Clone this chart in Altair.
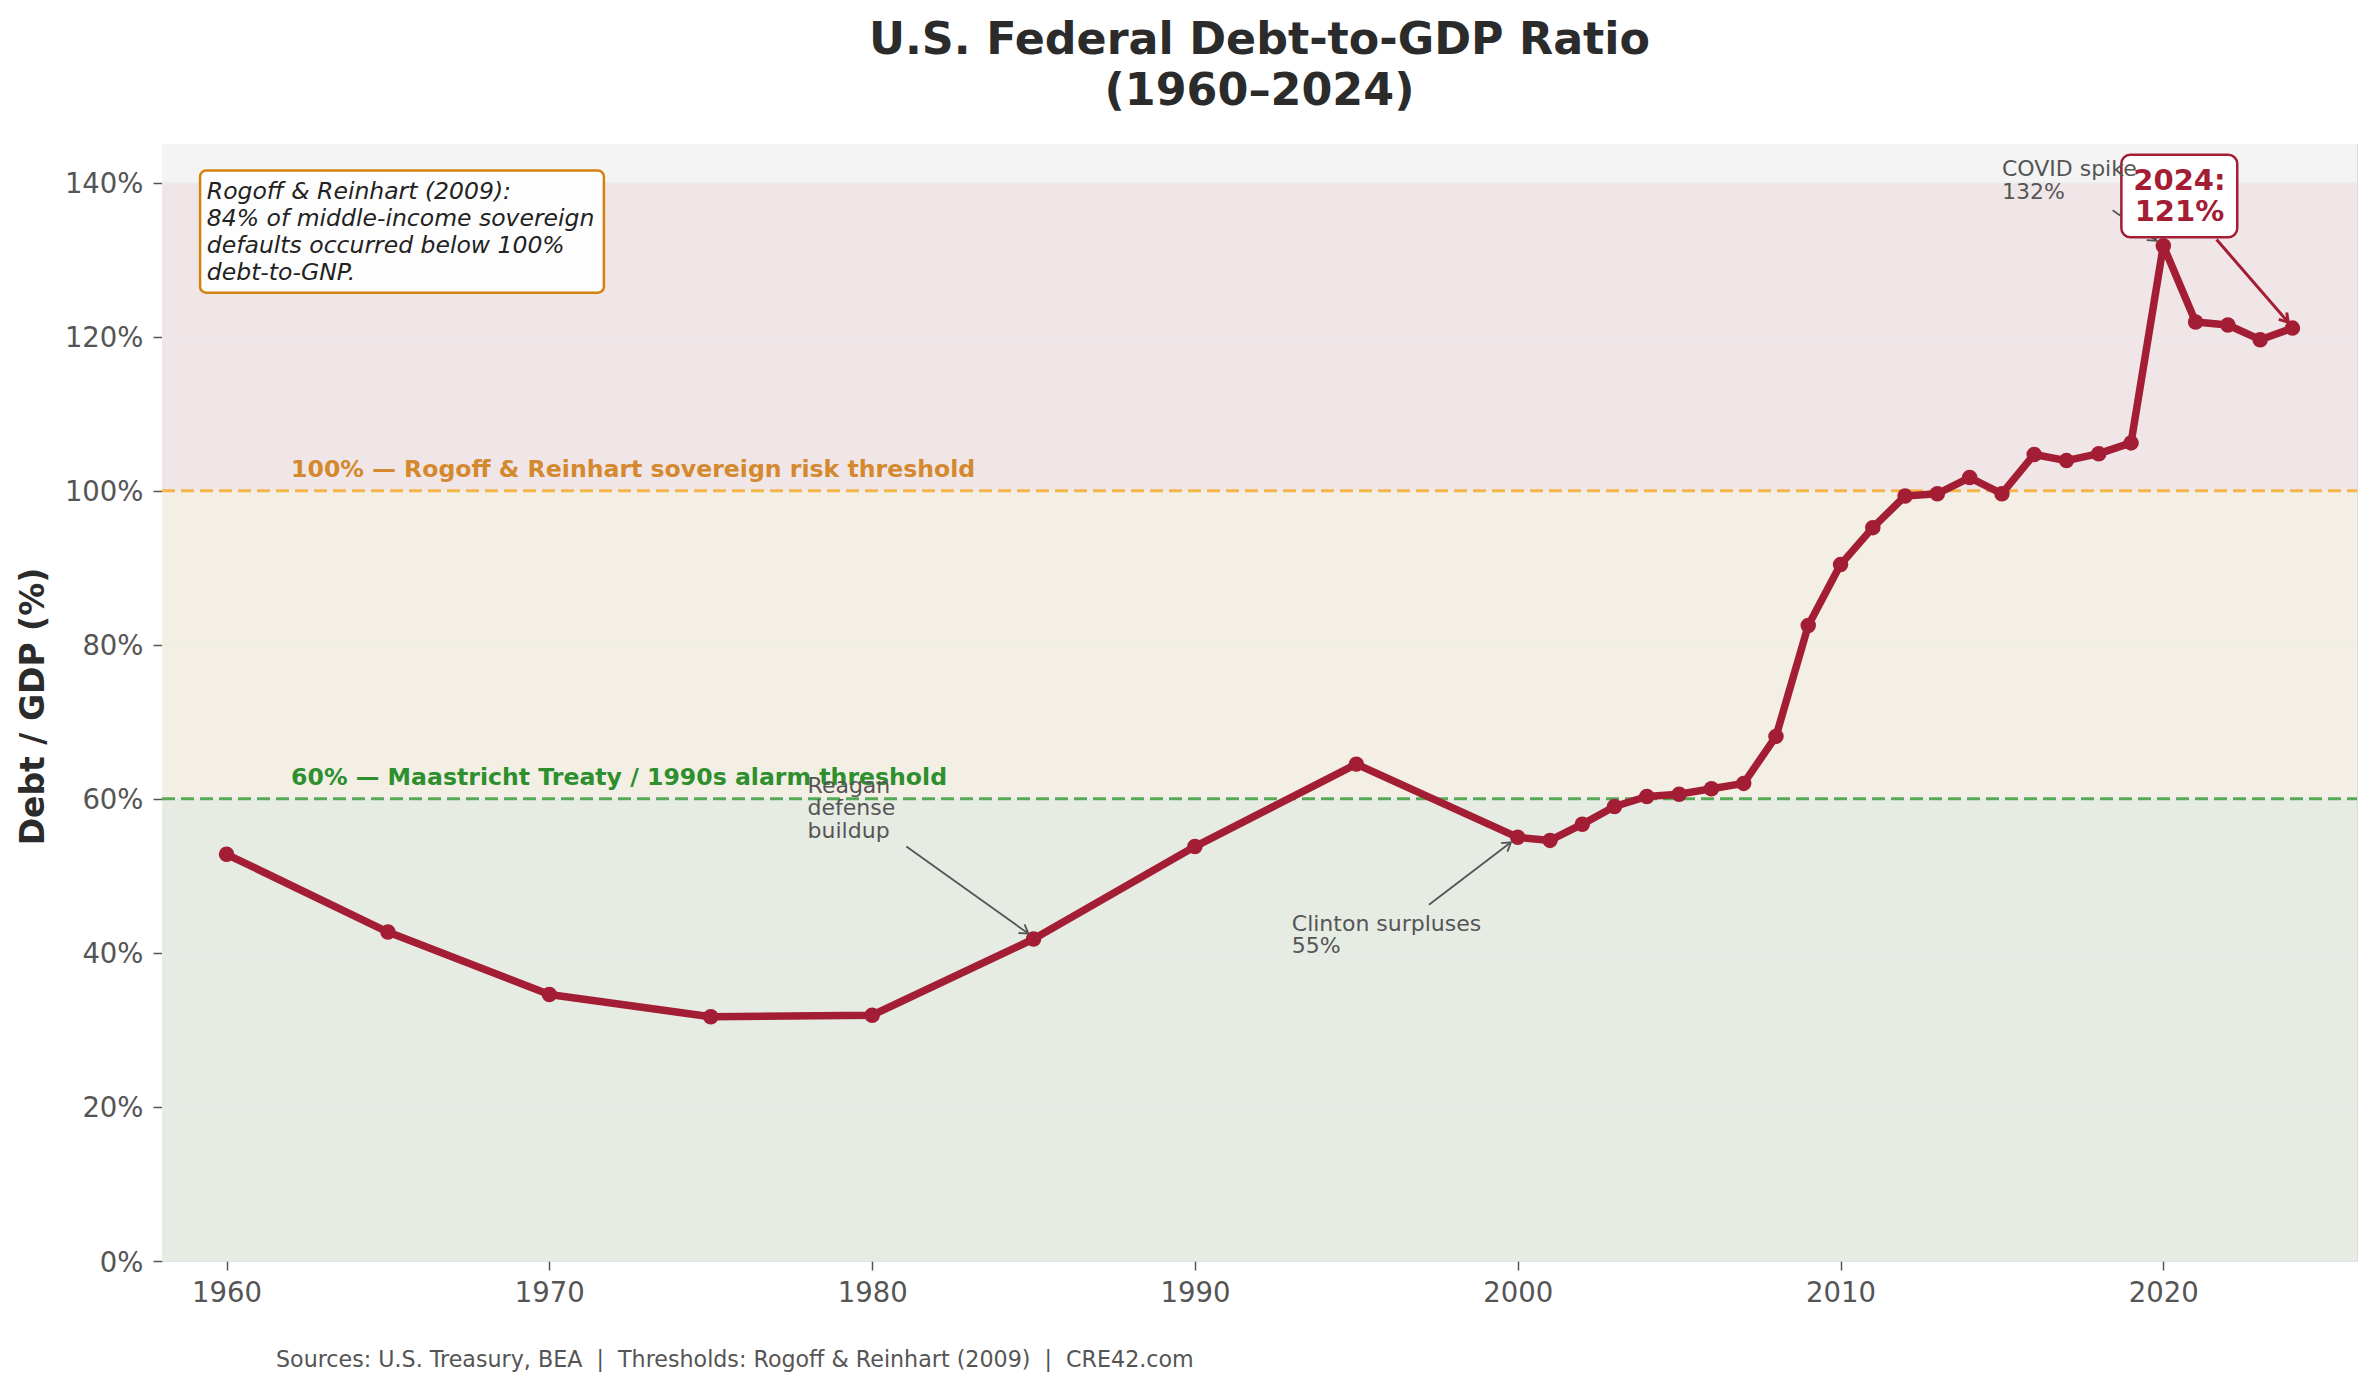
import math

import altair as alt
import pandas as pd

# ---- data -------------------------------------------------------------
years = [1960, 1965, 1970, 1975, 1980, 1985, 1990, 1995,
         2000, 2001, 2002, 2003, 2004, 2005, 2006, 2007, 2008, 2009,
         2010, 2011, 2012, 2013, 2014, 2015, 2016, 2017, 2018, 2019,
         2020, 2021, 2022, 2023, 2024]
debt_pct = [52.8, 42.7, 34.6, 31.7, 31.9, 41.8, 53.8, 64.5,
            55.0, 54.6, 56.7, 59.0, 60.3, 60.6, 61.3, 62.0, 68.1, 82.5,
            90.4, 95.2, 99.3, 99.6, 101.7, 99.6, 104.7, 103.9, 104.8, 106.2,
            131.8, 121.9, 121.5, 119.6, 121.1]

band_low = [0, 60, 100, 140]
band_high = [60, 100, 140, 145]
band_fill = ["#e6ece4", "#f4efe5", "#f0e6e8", "#f4f4f4"]

threshold_pct = [60, 100]
threshold_color = ["#57a957", "#f5b547"]
threshold_text = ["60% — Maastricht Treaty / 1990s alarm threshold",
                  "100% — Rogoff & Reinhart sovereign risk threshold"]
threshold_text_color = ["#2d8f2d", "#d4892e"]

x_ticks = [1960, 1970, 1980, 1990, 2000, 2010, 2020]
y_ticks = [0, 20, 40, 60, 80, 100, 120, 140]

title_text = "U.S. Federal Debt-to-GDP Ratio\n(1960–2024)"
SEP = "\u00a0\u00a0|\u00a0\u00a0"
source_text = ("Sources: U.S. Treasury, BEA" + SEP + "Thresholds: Rogoff & Reinhart (2009)"
               + SEP + "CRE42.com")
box_text = ("Rogoff & Reinhart (2009):\n84% of middle-income sovereign\n"
            "defaults occurred below 100%\ndebt-to-GNP.")

# ---- layout / style ---------------------------------------------------
W, H = 2195, 1117
X_DOM = [1958, 2026]
Y_DOM = [0, 145]
RED = "#a31d34"
GREY_TXT = "#555555"
FONT = "DejaVu Sans"

xs = alt.Scale(domain=X_DOM, nice=False, zero=False)
ys = alt.Scale(domain=Y_DOM, nice=False, zero=False)
px_per_x = W / (X_DOM[1] - X_DOM[0])
px_per_y = H / (Y_DOM[1] - Y_DOM[0])

XAX = alt.Axis(values=x_ticks, format="d", grid=False, domain=False, title=None,
               labelFontSize=27.5, labelColor=GREY_TXT, labelFont=FONT,
               tickColor=GREY_TXT, tickSize=9, tickWidth=1.5, labelPadding=9)
YAX = alt.Axis(values=y_ticks, labelExpr="datum.value + '%'", grid=False, domain=False,
               labelFontSize=27.5, labelColor=GREY_TXT, labelFont=FONT,
               tickColor=GREY_TXT, tickSize=9, tickWidth=1.5, labelPadding=10,
               labelBaseline="middle", labelOffset=2,
               title="Debt / GDP (%)", titleFontSize=33, titleFont=FONT,
               titleFontWeight="bold", titleColor="#2b2b2b", titleAngle=270,
               titleX=-129, titleY=562, titleAlign="center", titleBaseline="middle")


def X(field="x"):
    return alt.X(f"{field}:Q", scale=xs, axis=XAX)


def Y(field="y"):
    return alt.Y(f"{field}:Q", scale=ys, axis=YAX)


# background zones
bands = alt.Chart(pd.DataFrame({"lo": band_low, "hi": band_high, "c": band_fill})).mark_rect().encode(
    x=alt.value(0), x2=alt.value(W),
    y=Y("lo"), y2="hi:Q",
    color=alt.Color("c:N", scale=None),
)

grid = alt.Chart(pd.DataFrame({"y": y_ticks})).mark_rule(
    color="#e9e9e9", strokeWidth=1.6, opacity=0.55
).encode(y=Y(), x=alt.value(0), x2=alt.value(W))

thr = pd.DataFrame({"y": threshold_pct, "c": threshold_color,
                    "t": threshold_text, "tc": threshold_text_color,
                    "lx": [1962, 1962], "ly": [61.8, 101.8]})
thr_rules = alt.Chart(thr).mark_rule(strokeDash=[13, 6], strokeWidth=3).encode(
    y=Y(), x=alt.value(0), x2=alt.value(W),
    color=alt.Color("c:N", scale=None),
)
thr_labels = alt.Chart(thr).mark_text(
    align="left", baseline="alphabetic", fontSize=23.6, fontWeight="bold", font=FONT
).encode(x=X("lx"), y=Y("ly"), text="t:N", color=alt.Color("tc:N", scale=None))

# main series
series = pd.DataFrame({"x": years, "y": debt_pct})
line = alt.Chart(series).mark_line(
    color=RED, strokeWidth=7.5, strokeJoin="round", strokeCap="round"
).encode(x=X(), y=Y())
dots = alt.Chart(series).mark_circle(size=240, color=RED, opacity=1).encode(x=X(), y=Y())

# annotation arrows
arrows = pd.DataFrame({
    "x": [1981.06, 1997.25, 2018.43, 2021.65],
    "y": [53.8, 46.25, 136.4, 132.6],
    "x2": [1984.84, 1999.79, 2019.79, 2023.87],
    "y2": [42.5, 54.35, 132.45, 121.85],
    "c": [GREY_TXT, GREY_TXT, GREY_TXT, RED],
    "w": [1.8, 1.8, 1.8, 3.0],
})
arrows["ang"] = [
    math.degrees(math.atan2(-(r.y2 - r.y) * px_per_y, (r.x2 - r.x) * px_per_x)) % 360
    for r in arrows.itertuples()
]
shafts = alt.Chart(arrows).mark_rule().encode(
    x=X(), y=Y(), x2="x2:Q", y2="y2:Q",
    color=alt.Color("c:N", scale=None),
    strokeWidth=alt.StrokeWidth("w:Q", scale=None),
)
heads = alt.Chart(arrows).mark_point(
    shape="M-1.2,-0.75L0,0L-1.2,0.75", filled=False, size=196, opacity=1
).encode(
    x=X("x2"), y=Y("y2"),
    angle=alt.Angle("ang:Q", scale=None),
    color=alt.Color("c:N", scale=None),
    strokeWidth=alt.StrokeWidth("w:Q", scale=None),
)

notes = pd.DataFrame({
    "x": [1978.0, 1993.0, 2015.0],
    "y": [60.8, 42.9, 140.8],
    "t": ["Reagan\ndefense\nbuildup", "Clinton surpluses\n55%", "COVID spike\n132%"],
})
note_text = alt.Chart(notes).mark_text(
    align="left", baseline="alphabetic", fontSize=22, color=GREY_TXT, font=FONT,
    lineBreak="\n", lineHeight=22.5
).encode(x=X(), y=Y(), text="t:N")

# Rogoff & Reinhart text box
rr_box = alt.Chart(pd.DataFrame({"x": [1959.18], "x2": [1971.69], "y": [141.55], "y2": [125.7]})).mark_rect(
    fill="#fdfdfd", stroke="#d4820f", strokeWidth=2.5, cornerRadius=6
).encode(x=X(), x2="x2:Q", y=Y(), y2="y2:Q")
rr_text = alt.Chart(pd.DataFrame({"x": [1959.39], "y": [137.9], "t": [box_text]})).mark_text(
    align="left", baseline="alphabetic", fontSize=23.5, fontStyle="italic", color="#222222",
    font=FONT, lineBreak="\n", lineHeight=27
).encode(x=X(), y=Y(), text="t:N")

# latest value callout
last_box = alt.Chart(pd.DataFrame({"x": [2018.70], "x2": [2022.29], "y": [143.6], "y2": [132.9]})).mark_rect(
    fill="white", stroke=RED, strokeWidth=2.5, cornerRadius=9
).encode(x=X(), x2="x2:Q", y=Y(), y2="y2:Q")
last_text = alt.Chart(pd.DataFrame({"x": [2020.5], "y": [139.07],
                                    "t": [f"{years[-1]}:\n{round(debt_pct[-1])}%"]})).mark_text(
    align="center", baseline="alphabetic", fontSize=29, fontWeight="bold", color=RED,
    font=FONT, lineBreak="\n", lineHeight=31.5
).encode(x=X(), y=Y(), text="t:N")

# title and source line
title = alt.Chart(pd.DataFrame({"t": [title_text]})).mark_text(
    align="center", baseline="alphabetic", fontSize=44.4, fontWeight="bold", color="#2b2b2b",
    font=FONT, lineBreak="\n", lineHeight=51
).encode(x=alt.value(W / 2), y=alt.value(-90), text="t:N")
source = alt.Chart(pd.DataFrame({"t": [source_text]})).mark_text(
    align="left", baseline="alphabetic", fontSize=22.2, color=GREY_TXT, font=FONT
).encode(x=alt.value(114), y=alt.value(1223), text="t:N")

chart = alt.layer(
    bands, grid, thr_rules, thr_labels, line, dots, shafts, heads,
    rr_box, rr_text, last_box, last_text, note_text, title, source
).properties(
    width=W, height=H,
    autosize=alt.AutoSizeParams(type="none"),
    padding={"left": 162, "top": 144, "right": 20, "bottom": 131},
    background="white",
).configure_view(
    fill="#f4f4f4", stroke="#e2e2e2", strokeWidth=2
).configure(font=FONT)

chart.save("out.html", embed_options={"renderer": "svg", "actions": False})
